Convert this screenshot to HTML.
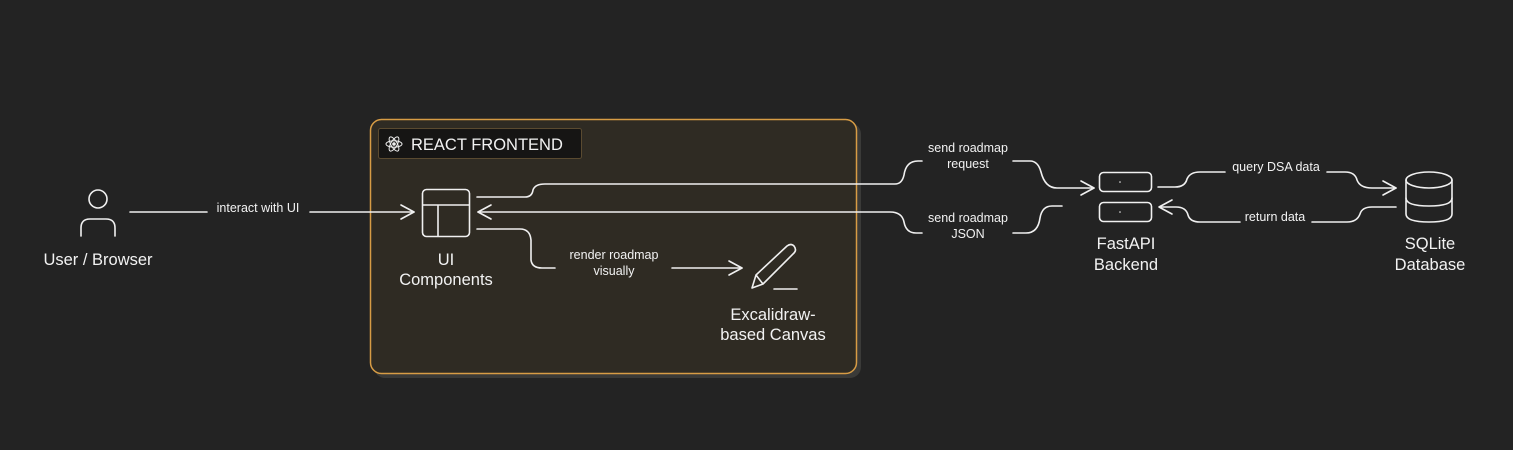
<!DOCTYPE html>
<html><head><meta charset="utf-8"><style>
html,body{margin:0;padding:0;background:#232323;}
svg{display:block;}
text{font-family:"Liberation Sans",sans-serif;fill:#f2f2f2;}
</style></head><body>
<svg width="1513" height="450" viewBox="0 0 1513 450" xmlns="http://www.w3.org/2000/svg">
<rect width="1513" height="450" fill="#232323"/>
<rect x="374" y="123" width="487" height="255" rx="11" fill="#3a3a38"/>
<rect x="370.5" y="119.5" width="486" height="254" rx="11" fill="#2f2b23" stroke="#d79c45" stroke-width="1.5"/>
<rect x="378.5" y="128.5" width="203" height="30" rx="2" fill="#161514" stroke="#5a4a30" stroke-width="1"/>
<g transform="translate(394,144)" stroke="#eee" fill="none" stroke-width="1">
<ellipse rx="8" ry="3.2"/><ellipse rx="8" ry="3.2" transform="rotate(60)"/><ellipse rx="8" ry="3.2" transform="rotate(-60)"/><circle r="1.3" fill="#eee"/>
</g>
<text x="411" y="150" font-size="16.5">REACT FRONTEND</text>

<g stroke="#f0f0f0" stroke-width="1.6" fill="none" stroke-linecap="round" stroke-linejoin="round">
<circle cx="98" cy="199" r="9"/>
<path d="M81,236 V228 Q81,219 90,219 H106 Q115,219 115,228 V236"/>
<path d="M130,212 H207 M310,212 H414"/>
<path d="M401,205 L414,212 L401,219"/>
<rect x="422.5" y="189.5" width="47" height="47" rx="4"/>
<path d="M423,205 H469 M438,205 V236"/>
<path d="M477,197 H525 Q532,197 533,190 Q535,184 545,184 H895 Q902,184 904,175 Q906,161 918,161 H922"/>
<path d="M1013,161 H1030 Q1038,161 1041,172 Q1045,188 1057,188 H1094"/>
<path d="M1081,181 L1094,188 L1081,195"/>
<path d="M1062,206 H1052 Q1042,206 1040,218 Q1038,233 1026,233 H1013"/>
<path d="M922,233 H916 Q906,233 904,222 Q902,212 890,212 H478"/>
<path d="M491,205 L478,212 L491,219"/>
<path d="M477,229 H520 Q530,229 531,240 V260 Q532,268 542,268 H555"/>
<path d="M672,268 H742"/>
<path d="M729,261 L742,268 L729,275"/>
<path d="M752,288 L756,275 L787,246 Q791,243 794,246 Q797,250 794,253 L763,284 Z M756,275 L763,284"/>
<path d="M774,289 H797"/>
<rect x="1099.5" y="172.5" width="52" height="19" rx="4"/>
<rect x="1099.5" y="202.5" width="52" height="19" rx="4"/>
<path d="M1158,187 H1175 Q1185,187 1187,179 Q1190,172 1200,172 H1225"/>
<path d="M1327,172 H1345 Q1355,172 1357,180 Q1360,188 1372,188 H1396"/>
<path d="M1383,181 L1396,188 L1383,195"/>
<path d="M1396,207 H1372 Q1362,207 1360,214 Q1357,222 1347,222 H1312"/>
<path d="M1240,222 H1200 Q1190,222 1188,215 Q1186,207 1176,207 H1160"/>
<path d="M1172,200 L1159,207 L1172,214"/>
<ellipse cx="1429" cy="180" rx="23" ry="8"/>
<path d="M1406,180 V214 Q1406,222 1429,222 Q1452,222 1452,214 V180"/>
<path d="M1406,198 Q1406,206 1429,206 Q1452,206 1452,198"/>
</g>
<circle cx="1120" cy="182" r="0.8" fill="#eee"/>
<circle cx="1120" cy="212" r="0.8" fill="#eee"/>

<g font-size="16.5" text-anchor="middle">
<text x="98" y="265">User / Browser</text>
<text x="446" y="265">UI</text>
<text x="446" y="285">Components</text>
<text x="773" y="320">Excalidraw-</text>
<text x="773" y="340">based Canvas</text>
<text x="1126" y="249">FastAPI</text>
<text x="1126" y="270">Backend</text>
<text x="1430" y="249">SQLite</text>
<text x="1430" y="270">Database</text>
</g>
<g font-size="12.5" text-anchor="middle">
<text x="258" y="212">interact with UI</text>
<text x="614" y="259">render roadmap</text>
<text x="614" y="275">visually</text>
<text x="968" y="152">send roadmap</text>
<text x="968" y="168">request</text>
<text x="968" y="222">send roadmap</text>
<text x="968" y="238">JSON</text>
<text x="1276" y="171">query DSA data</text>
<text x="1275" y="221">return data</text>
</g>
</svg>
</body></html>
